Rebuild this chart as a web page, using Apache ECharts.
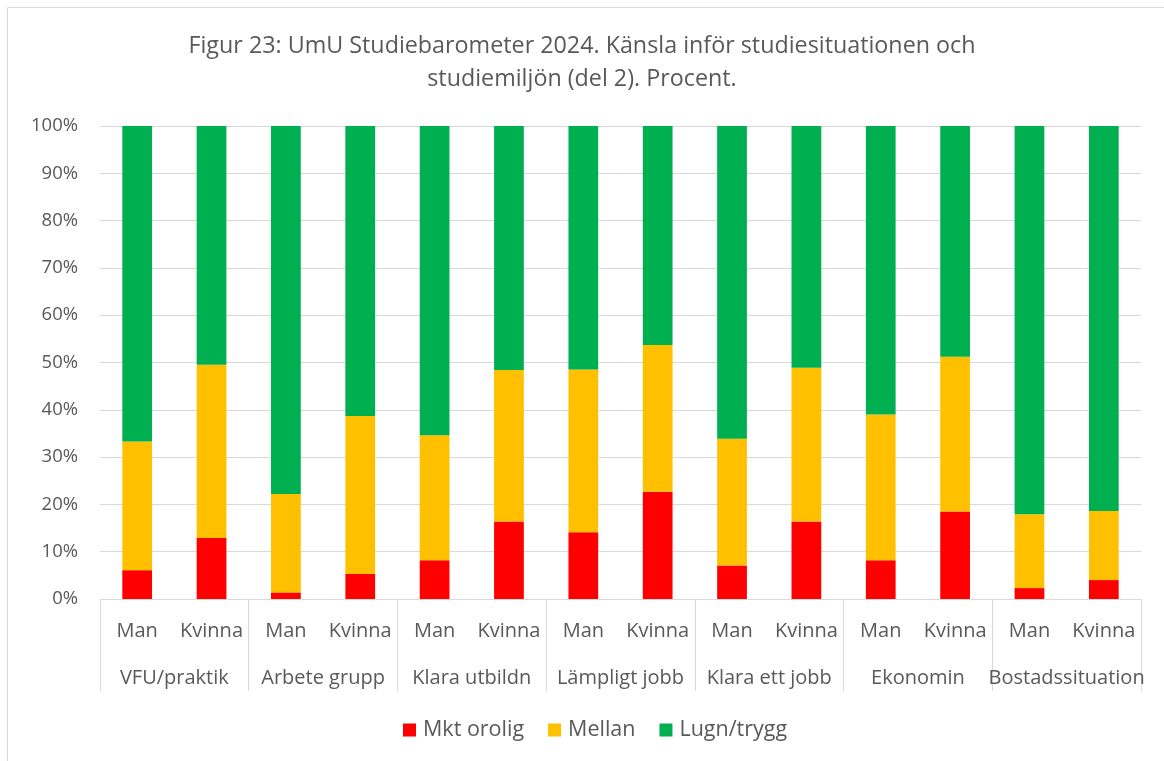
<!DOCTYPE html>
<html>
<head>
<meta charset="utf-8">
<script src="https://cdn.jsdelivr.net/npm/echarts@6/dist/echarts.min.js"></script>
<style>
html,body{margin:0;padding:0;background:#fff;}
#chart{width:1164px;height:761px;}
</style>
</head>
<body>
<div id="chart"></div>
<script>
const groups = ['VFU/praktik','Arbete grupp','Klara utbildn','Lämpligt jobb','Klara ett jobb','Ekonomin','Bostadssituation'];
const genders = ['Man','Kvinna'];
const categories = ['Man','Kvinna','Man','Kvinna','Man','Kvinna','Man','Kvinna','Man','Kvinna','Man','Kvinna','Man','Kvinna'];
const mktOrolig = [6.1, 12.9, 1.4, 5.3, 8.2, 16.4, 14.1, 22.7, 7.1, 16.4, 8.2, 18.5, 2.3, 4.0];
const mellan    = [27.2, 36.6, 20.8, 33.4, 26.4, 32.0, 34.4, 31.0, 26.8, 32.5, 30.8, 32.7, 15.6, 14.6];
const lugnTrygg = [66.7, 50.5, 77.8, 61.3, 65.4, 51.6, 51.5, 46.3, 66.1, 51.1, 61.0, 48.8, 82.1, 81.4];
const yTicks = [0,10,20,30,40,50,60,70,80,90,100];

const font = "'Open Sans', 'Noto Sans', sans-serif";
const txt = '#595959';
const chart = echarts.init(document.getElementById('chart'));
chart.setOption({
  animation: false,
  textStyle: {fontFamily: font},
  title: {
    text: 'Figur 23: UmU Studiebarometer 2024. Känsla inför studiesituationen och\nstudiemiljön (del 2). Procent.',
    left: 'center', top: 25,
    textStyle: {fontFamily: font, fontSize: 23.3, fontWeight: 'normal', color: txt, lineHeight: 33}
  },
  graphic: [{type:'rect', shape:{x:7.5,y:7.5,width:1200,height:800}, style:{fill:'none', stroke:'#d9d9d9', lineWidth:1}, silent:true}],
  legend: {
    bottom: 15, left: 398, itemWidth: 13, itemHeight: 13, itemGap: 24,
    icon: 'rect',
    textStyle: {fontFamily: font, fontSize: 21.5, color: txt, padding:[0,0,0,2]},
    data: ['Mkt orolig','Mellan','Lugn/trygg']
  },
  grid: {left: 100, right: 23, top: 126, bottom: 162},
  xAxis: [{
    type: 'category', data: categories, position: 'bottom',
    axisLine: {lineStyle: {color: '#d9d9d9'}},
    axisTick: {show: false},
    axisLabel: {fontFamily: font, fontSize: 20, color: txt, margin: 22, interval: 0}
  },{
    type: 'category', data: groups, position: 'bottom',
    axisLine: {show: false},
    axisTick: {show: true, alignWithLabel: false, length: 92, lineStyle: {color: '#d9d9d9'}},
    axisLabel: {fontFamily: font, fontSize: 20, color: txt, margin: 69, interval: 0}
  }],
  yAxis: {
    type: 'value', min: 0, max: 100, interval: 10,
    axisLabel: {formatter: v => v + '%', fontFamily: font, fontSize: 18.5, color: txt, margin: 22},
    splitLine: {lineStyle: {color: '#d9d9d9'}},
    axisLine: {show: false}, axisTick: {show: false}
  },
  series: [
    {name:'Mkt orolig', type:'bar', stack:'a', data: mktOrolig, barWidth:'40%', itemStyle:{color:'#ff0000'}},
    {name:'Mellan', type:'bar', stack:'a', data: mellan, itemStyle:{color:'#ffc000'}},
    {name:'Lugn/trygg', type:'bar', stack:'a', data: lugnTrygg, itemStyle:{color:'#00b050'}}
  ]
});
</script>
</body>
</html>
